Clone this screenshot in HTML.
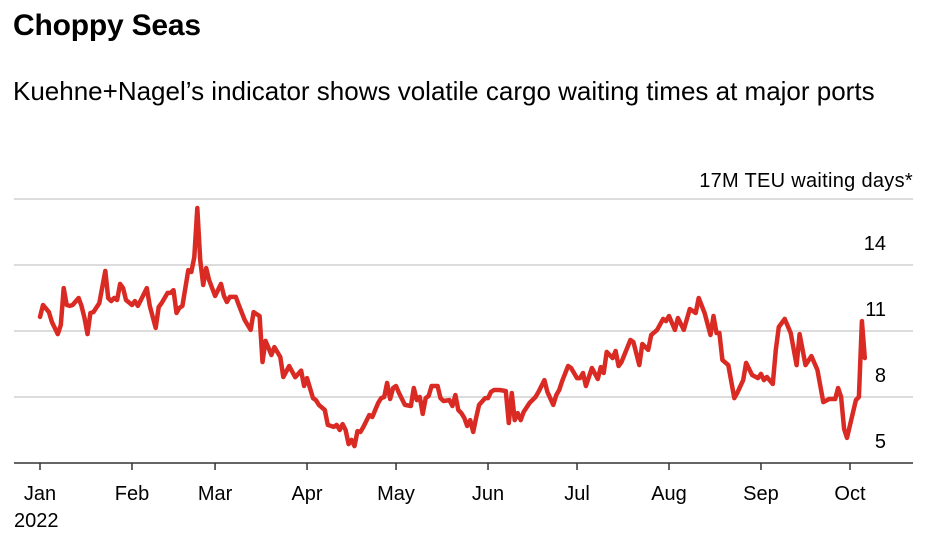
<!DOCTYPE html>
<html><head><meta charset="utf-8"><style>
html,body{margin:0;padding:0;background:#fff;width:938px;height:538px;overflow:hidden}
body{font-family:"Liberation Sans",Arial,sans-serif;color:#000}
#title{position:absolute;left:13px;top:9px;font-size:30px;font-weight:bold;letter-spacing:-0.2px}
#sub{position:absolute;left:13px;top:76px;font-size:26px;white-space:nowrap}
svg{position:absolute;left:0;top:0}
</style></head><body>
<div id="title">Choppy Seas</div>
<div id="sub">Kuehne+Nagel’s indicator shows volatile cargo waiting times at major ports</div>
<svg id="chart" width="938" height="538"></svg>
<script>
const days=[0,1,3,4,6,7,8,9,10,11,13,14,15,16,17,18,20,22,23,24,25,26,27,28,29,31,32,33,34,36,37,39,40,41,43,44,45,46,47,48,50,51,52,53,54,55,56,57,59,61,62,63,64,66,67,69,70,71,72,73,74,75,76,77,78,79,81,82,84,86,88,89,90,92,93,94,96,97,99,100,101,102,103,104,105,106,107,108,109,111,112,114,115,116,117,118,119,120,121,123,125,126,127,128,129,130,131,132,134,135,136,138,139,140,141,142,143,144,145,146,147,148,150,151,152,153,155,157,158,159,160,161,162,163,165,167,168,170,171,173,174,175,176,178,179,181,182,183,184,186,188,189,190,191,193,194,195,196,199,200,202,203,205,206,208,210,211,212,214,215,217,219,221,222,224,226,227,228,229,230,232,234,235,237,238,240,242,243,244,245,247,248,249,251,253,255,256,258,260,262,264,266,268,269,270,271,272,275,276,277,278];
const values=[11.64,12.18,11.86,11.41,10.86,11.27,12.95,12.18,12.14,12.18,12.5,12.14,11.59,10.86,11.82,11.86,12.27,13.73,12.5,12.36,12.5,12.41,13.14,12.95,12.41,12.18,12.36,12.14,12.41,12.95,12.14,11.14,12.09,12.27,12.73,12.73,12.86,11.82,12.05,12.14,13.77,13.68,14.36,16.59,14.23,13.09,13.86,13.32,12.59,13.14,12.59,12.32,12.55,12.55,12.18,11.5,11.27,11.05,11.86,11.77,11.68,9.59,10.55,10.23,9.91,10.27,9.82,8.91,9.41,8.9,9.2,8.5,8.86,7.95,7.86,7.64,7.41,6.73,6.64,6.73,6.5,6.77,6.5,5.86,6.05,5.77,6.45,6.41,6.64,7.18,7.09,7.73,7.95,8.0,8.64,7.91,8.41,8.5,8.18,7.64,7.59,8.41,7.86,8.0,7.23,7.95,8.05,8.5,8.5,7.95,7.82,7.86,7.59,8.09,7.41,7.27,7.05,6.68,6.95,6.41,7.05,7.64,7.95,7.95,8.23,8.32,8.32,8.27,6.82,8.18,6.95,7.27,6.95,7.32,7.73,8.0,8.23,8.77,8.23,7.64,8.09,8.32,8.73,9.41,9.32,8.86,8.86,9.09,8.5,9.32,8.82,9.36,9.09,10.05,9.77,10.09,9.41,9.59,10.59,10.5,9.45,10.41,10.14,10.82,11.05,11.55,11.45,11.68,11.05,11.59,11.05,12.0,11.82,12.5,11.82,10.82,11.68,10.91,10.91,9.68,9.45,7.95,8.18,8.77,9.55,9.0,8.86,9.05,8.77,8.91,8.59,10.14,11.18,11.55,10.91,9.45,10.86,9.45,9.86,9.23,7.77,7.91,7.91,8.41,8.0,6.55,6.14,7.86,8.0,11.45,9.77];
const yTicks=[5,8,11,14,17];
const months=["Jan","Feb","Mar","Apr","May","Jun","Jul","Aug","Sep","Oct"];
const monthDays=[0,31,59,90,120,151,181,212,243,273];

const NS="http://www.w3.org/2000/svg";
const svg=document.getElementById('chart');
const xS=d=>40+d*2.967;
const yS=v=>463-(v-5)*22;
const F='Liberation Sans, sans-serif';
function mk(t,a){const e=document.createElementNS(NS,t);for(const k in a)e.setAttribute(k,a[k]);svg.appendChild(e);return e;}
yTicks.forEach(t=>{
  if(t===5)return;
  const g=mk('line',{x1:14,x2:913,y1:yS(t),y2:yS(t),stroke:'#d0d0d0','stroke-width':1.5});
  
  
});
yTicks.forEach(t=>{
  if(t===17)return;
  const tx=mk('text',{x:886,y:yS(t)-15,'text-anchor':'end','font-size':20,'font-family':F});
  tx.textContent=t;
  
  
});
const ut=mk('text',{x:913,y:187,'text-anchor':'end','font-size':20,'font-family':F,'letter-spacing':0.3});
ut.textContent='17M TEU waiting days*';


const base=mk('line',{x1:14,x2:913,y1:463,y2:463,stroke:'#333','stroke-width':1.5});


months.forEach((m,i)=>{
  const x=xS(monthDays[i]);
  const tk=mk('line',{x1:x,x2:x,y1:463,y2:470,stroke:'#333','stroke-width':1.5});
  
  
  const l=mk('text',{x:x,y:500,'text-anchor':'middle','font-size':20,'font-family':F});
  l.textContent=m;
  
  
});
const yr=mk('text',{x:14,y:527,'font-size':20,'font-family':F});
yr.textContent='2022';


const pts=days.map((d,i)=>xS(d).toFixed(1)+','+yS(values[i]).toFixed(1)).join(' ');
const pl=mk('polyline',{points:pts,fill:'none',stroke:'#d92b23','stroke-width':4.5,'stroke-linejoin':'round','stroke-linecap':'round'});


</script>
</body></html>
